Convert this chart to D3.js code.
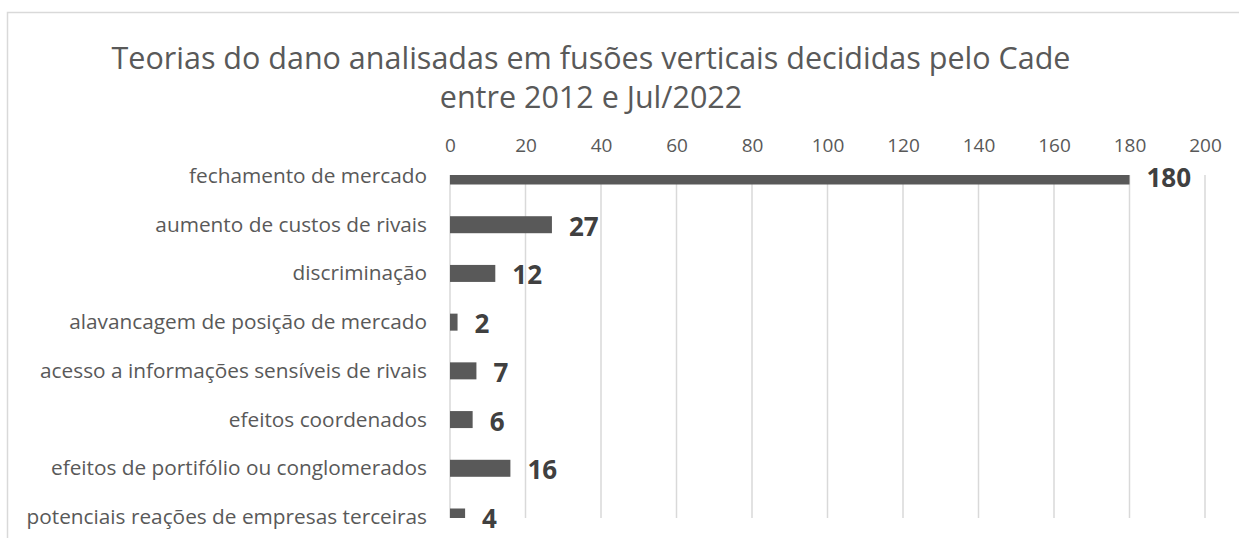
<!DOCTYPE html>
<html>
<head>
<meta charset="utf-8">
<script src="https://cdn.jsdelivr.net/npm/d3@7"></script>
<style>
body { margin: 0; background: #fff; }
svg { display: block; }
</style>
</head>
<body>
<script>
// chart data
var categories = [
	"fechamento de mercado",
	"aumento de custos de rivais",
	"discriminação",
	"alavancagem de posição de mercado",
	"acesso a informações sensíveis de rivais",
	"efeitos coordenados",
	"efeitos de portifólio ou conglomerados",
	"potenciais reações de empresas terceiras"
];
var counts = [180, 27, 12, 2, 7, 6, 16, 4];
var tick_values = [0, 20, 40, 60, 80, 100, 120, 140, 160, 180, 200];
var title_lines = ["Teorias do dano analisadas em fusões verticais decididas pelo Cade", "entre 2012 e Jul/2022"];

var width = 1239, height = 538;
var plot_left = 450, plot_right = 1205, plot_top = 175, plot_bottom = 518;
var bar_height = 17;
var font = "'Open Sans', sans-serif";

var svg = d3.select("body")
	.append("svg")
	.attr("width", width)
	.attr("height", height);

svg.append("rect")
	.attr("width", width).attr("height", height)
	.attr("fill", "#fff");

// chart area border (runs off the right and bottom edge)
svg.append("rect")
	.attr("x", 7.5).attr("y", 12.5)
	.attr("width", width + 20).attr("height", height + 20)
	.attr("fill", "none")
	.attr("stroke", "#d9d9d9")
	.attr("stroke-width", 1.5);

var x = d3.scaleLinear().domain([0, 200]).range([plot_left, plot_right]);
var y = d3.scalePoint().domain(categories).range([176, 517]);

// title
svg.append("text")
	.attr("text-anchor", "middle")
	.attr('font-family', font)
	.attr('font-size', 30.5)
	.attr('fill', '#595959')
	.selectAll("tspan")
	.data(title_lines)
	.enter()
	.append("tspan")
	.attr("x", 591)
	.attr("y", function(d, i) { return 69 + i * 39; })
	.text(function(d) { return d; });

// top axis with gridlines
var axis = d3.axisTop(x).tickValues(tick_values).tickSize(0).tickPadding(0);
var g_axis = svg.append("g")
	.attr("transform", "translate(0,152)")
	.call(axis);
g_axis.select(".domain").remove();
g_axis.selectAll("text")
	.attr('font-family', font)
	.attr('font-size', 19)
	.attr('fill', '#595959')
	.attr("dy", 0);

svg.append("g")
	.selectAll("line")
	.data(tick_values)
	.enter()
	.append("line")
	.attr("x1", function(d) { return x(d); })
	.attr("x2", function(d) { return x(d); })
	.attr("y1", plot_top)
	.attr("y2", plot_bottom)
	.attr("stroke", "#d9d9d9")
	.attr("stroke-width", 1.5);

// bars clipped to the plot area
svg.append("clipPath")
	.attr("id", "plot-clip")
	.append("rect")
	.attr("x", plot_left - 2).attr("y", plot_top)
	.attr("width", plot_right - plot_left + 4)
	.attr("height", plot_bottom - plot_top);

svg.append("g")
	.attr("clip-path", "url(#plot-clip)")
	.selectAll("rect")
	.data(counts)
	.enter()
	.append("rect")
	.attr("x", x(0))
	.attr("y", function(d, i) { return y(categories[i]) - bar_height / 2; })
	.attr("width", function(d) { return x(d) - x(0); })
	.attr("height", bar_height)
	.attr("fill", "#595959");

// category labels
svg.append("g")
	.selectAll("text")
	.data(categories)
	.enter()
	.append("text")
	.attr("x", 427)
	.attr("y", function(d) { return y(d) + 7; })
	.attr("text-anchor", "end")
	.attr('font-family', font)
	.attr('font-size', 20.8)
	.attr('fill', '#595959')
	.text(function(d) { return d; });

// value labels
svg.append("g")
	.selectAll("text")
	.data(counts)
	.enter()
	.append("text")
	.attr("x", function(d) { return x(d) + 17; })
	.attr("y", function(d, i) { return y(categories[i]) + 11; })
	.attr('font-family', font)
	.attr('font-weight', 'bold')
	.attr('font-size', 26)
	.attr('fill', '#404040')
	.text(function(d) { return d; });
</script>
</body>
</html>
